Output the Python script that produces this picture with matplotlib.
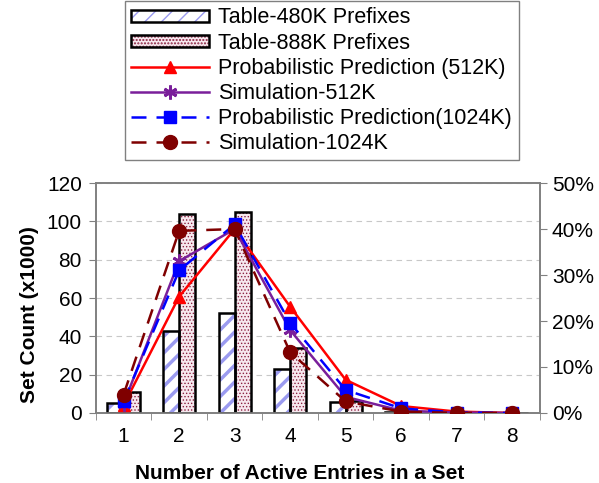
import matplotlib
matplotlib.use("Agg")
import matplotlib.pyplot as plt
import numpy as np
from matplotlib.patches import Patch
from matplotlib.legend_handler import HandlerTuple

plt.rcParams['font.family'] = ['Liberation Sans', 'DejaVu Sans']

categories = [1, 2, 3, 4, 5, 6, 7, 8]
table_480k = [5, 43, 52, 23, 5.5, 0.6, 0.1, 0.0]
table_888k = [11, 104, 105, 34, 6, 1.0, 0.1, 0.0]
prob_512k = [1.7, 25.3, 40.0, 23.1, 7.2, 1.5, 0.3, 0.0]
sim_512k = [2.0, 33.0, 40.0, 18.0, 3.5, 0.5, 0.1, 0.0]
prob_1024k = [2.5, 31.0, 41.0, 19.6, 5.0, 1.0, 0.1, 0.0]
sim_1024k = [4.0, 39.6, 40.0, 13.2, 2.5, 0.3, 0.0, 0.0]

labels = ["Table-480K Prefixes", "Table-888K Prefixes",
          "Probabilistic Prediction (512K)", "Simulation-512K",
          "Probabilistic Prediction(1024K)", "Simulation-1024K"]

STRIPE = '#9b9bf0'
DOT = '#8b2040'
PINK = '#f6e8ee'

fig = plt.figure(figsize=(5.99, 4.83), dpi=100)
ax = fig.add_axes([0.160, 0.145, 0.7415, 0.476])
ax2 = ax.twinx()

x = np.arange(len(categories))
w = 0.29
with plt.rc_context({'hatch.linewidth': 2.5}):
    ax.bar(x - w / 2, table_480k, w, facecolor='white', edgecolor=STRIPE,
           hatch='//', linewidth=0, zorder=2)
    hs1 = Patch(facecolor='white', edgecolor=STRIPE, hatch='//', lw=0)
ax.bar(x - w / 2, table_480k, w, fill=False, edgecolor='black', linewidth=1.8, zorder=3)
with plt.rc_context({'hatch.linewidth': 0.6}):
    ax.bar(x + w / 2, table_888k, w, facecolor=PINK, edgecolor=DOT,
           hatch='.....', linewidth=0, zorder=2)
    hs2 = Patch(facecolor=PINK, edgecolor=DOT, hatch='.....', lw=0)
ax.bar(x + w / 2, table_888k, w, fill=False, edgecolor='black', linewidth=1.8, zorder=3)

ax.set_xlim(-0.5, len(categories) - 0.5)
ax.set_ylim(0, 120)
ax.set_yticks(range(0, 121, 20))
ax.set_xticks(x)
ax.set_xticklabels([str(c) for c in categories])
ax.set_xticks(np.arange(-0.5, len(categories), 1), minor=True)
ax.tick_params(axis='x', which='major', length=0, labelsize=15, pad=10)
ax.tick_params(axis='x', which='minor', length=5, color='#808080', direction='out')
ax.tick_params(axis='y', labelsize=15, length=5, color='#808080', direction='out', pad=5)
ax.yaxis.grid(True, linestyle=(0, (5, 4)), color='#c8c8c8', linewidth=0.8)
ax.set_axisbelow(True)

l1, = ax2.plot(x, prob_512k, color='#ff0000', lw=1.8, marker='^', ms=9, zorder=4)
l2, = ax2.plot(x, sim_512k, color='#7a1f9a', lw=1.8, marker=(6, 2, 0), ms=10, mew=2, zorder=4)
l3, = ax2.plot(x, prob_1024k, color='#0000ff', lw=1.8, ls=(0, (6, 4)), marker='s', ms=9, zorder=4)
l4, = ax2.plot(x, sim_1024k, color='#7f0000', lw=1.8, ls=(0, (6, 4)), marker='o', ms=10, zorder=4)
ax2.set_ylim(0, 50)
ax2.set_yticks(range(0, 51, 10))
ax2.set_yticklabels([f"{v}%" for v in range(0, 51, 10)])
ax2.tick_params(axis='y', labelsize=15, length=5, color='#808080', direction='out')

for a in (ax, ax2):
    for s in a.spines.values():
        s.set_color('#808080')
        s.set_linewidth(1.2)

ax.set_xlabel("Number of Active Entries in a Set", fontsize=15, fontweight='bold')
ax.set_ylabel("Set Count (x1000)", fontsize=15, fontweight='bold')
ax.xaxis.set_label_coords(0.459, -0.222)
ax.yaxis.set_label_coords(-0.128, 0.426)

h1 = (hs1, Patch(fill=False, edgecolor='black', lw=1.8))
h2 = (hs2, Patch(fill=False, edgecolor='black', lw=1.8))
leg = fig.legend([h1, h2, l1, l2, l3, l4], labels,
                 handler_map={tuple: HandlerTuple(ndivide=1, pad=0)},
                 loc='upper center', bbox_to_anchor=(0.537, 0.998),
                 fontsize=15.5, handlelength=3.6, handleheight=0.5,
                 handletextpad=0.45,
                 labelspacing=0.19, borderpad=0.3, borderaxespad=0,
                 fancybox=False, edgecolor='#808080', framealpha=1)
leg.get_frame().set_linewidth(1.0)

fig.savefig("out.png", dpi=100)
